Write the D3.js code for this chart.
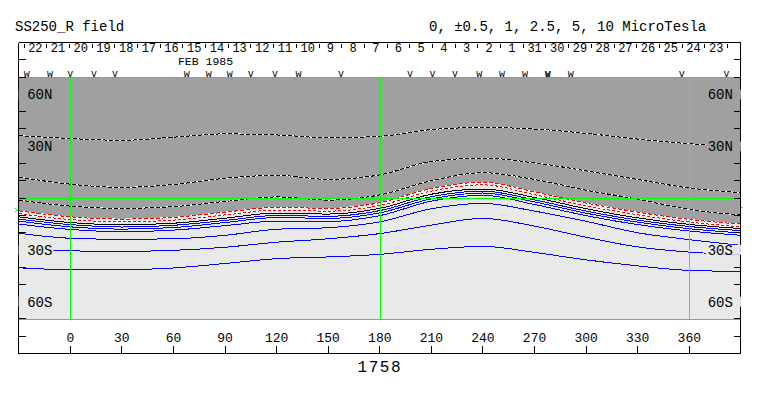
<!DOCTYPE html>
<html>
<head>
<meta charset="utf-8">
<script src="https://cdn.jsdelivr.net/npm/d3@7"></script>
<style>
  body { margin: 0; background: #fff; }
  text { font-family: "Liberation Mono", "DejaVu Sans Mono", monospace; fill: #000; }
</style>
</head>
<body>
<script>
// ---------- data (lat in degrees at each sample longitude) ----------
var lons = [-30, 0, 30, 60, 90, 120, 150, 180, 210, 240, 270, 300, 330, 360, 390];

// negative contours (dashed)
var latNeg10  = [36.1, 34.4, 33.4, 35.2, 37.1, 36.5, 34.9, 35.7, 39.6, 40.8, 39.9, 37.4, 34.1, 31.4, 29.7];
var latNeg5   = [12.1, 8.0, 6.2, 7.8, 11.4, 13.1, 10.8, 13.4, 21.1, 23.1, 20.3, 15.7, 10.7, 5.8, 3.1];
var latNeg2p5 = [-1.2, -4.7, -6.0, -5.0, -2.0, 0.6, -1.2, 1.8, 10.0, 14.6, 10.7, 4.5, -0.7, -6.6, -9.9];
var latNeg1   = [-7.4, -10.9, -12.2, -11.2, -8.2, -5.4, -6.0, -2.7, 5.5, 9.1, 3.5, -2.9, -8.2, -12.4, -15.1];
var latNeg0p5 = [-9.0, -12.5, -13.8, -12.8, -9.8, -7.0, -7.6, -4.3, 4.0, 7.6, 1.9, -4.5, -9.7, -13.9, -16.7];
// zero line
var latZero   = [-10.9, -14.2, -15.5, -14.6, -11.7, -8.7, -9.3, -6.0, 2.2, 5.2, 0.3, -6.2, -11.5, -15.3, -17.7];
// positive contours (blue)
var latPos0p5 = [-12.2, -15.4, -16.8, -15.8, -13.0, -10.1, -10.6, -7.3, 0.8, 4.0, -1.1, -7.6, -12.8, -16.5, -18.9];
var latPos1   = [-13.4, -16.7, -18.0, -17.1, -14.2, -11.3, -11.8, -8.6, -0.5, 2.9, -2.3, -8.8, -14.0, -17.8, -20.2];
var latPos2p5 = [-15.1, -18.2, -19.5, -18.6, -16.0, -13.4, -13.6, -10.2, -1.8, 1.6, -3.8, -10.2, -15.4, -19.1, -21.6];
var latPos5   = [-20.4, -23.3, -23.9, -23.6, -21.6, -18.1, -17.2, -13.8, -6.2, -3.1, -7.6, -13.5, -20.1, -24.1, -27.4];
var latPos10  = [-29.9, -30.6, -30.9, -30.3, -28.5, -25.6, -23.6, -20.6, -15.7, -11.8, -16.3, -22.7, -28.3, -31.3, -32.9];
var latPos20  = [-40.4, -41.5, -41.5, -40.5, -37.9, -35.1, -34.1, -32.6, -29.7, -28.0, -31.5, -35.8, -39.3, -41.9, -42.5];

// observation marks along the top of the map
var obsLon  = [-25.3, -11.8, 0, 13.8, 26, 67.7, 80.6, 92.8, 104.9, 119, 132.7, 157.4,
               197.5, 210.7, 223.7, 237.9, 251, 264.4, 277.7, 277.7, 291, 355.6, 381.6];
var obsMark = ["w", "w", "v", "v", "v", "w", "w", "w", "v", "v", "w", "v",
               "v", "v", "v", "w", "w", "w", "w", "v", "w", "v", "v"];

// day strip: dates at the two ends of the strip and their longitudes
var dayDates = [new Date(Date.UTC(1985, 1, 23)), new Date(Date.UTC(1985, 0, 23))];
var dayLons  = [-26.9, 382.2];

// axes
var lonTicks    = [0, 30, 60, 90, 120, 150, 180, 210, 240, 270, 300, 330, 360];
var latTicks    = [80, 70, 60, 50, 40, 30, 20, 10, 0, -10, -20, -30, -40, -50, -60, -70, -80];
var latLabels   = [60, 30, -30, -60];
var gridLons    = [0, 180, 360];
var gridLats    = [70, 0, -70];
var subsolarLat = -7;

var titleLeft  = "SS250_R field";
var titleRight = "0, \u00b10.5, 1, 2.5, 5, 10 MicroTesla";
var monthLabel = "FEB 1985";
var rotation   = "1758";

//////////// SCALES ////////////
var svg = d3.select("body").append("svg")
    .attr("width", 763)
    .attr("height", 396);

var x = d3.scaleLinear().domain([-30, 390]).range([18.7, 740.9]);
var y = d3.scaleLinear().domain([90, -90]).range([42.5, 353.5]);
var tx = d3.scaleUtc().domain(dayDates).range(dayLons.map(x));

// snap a coordinate to the pixel centre so 1px lines stay sharp
function px(v) { return Math.round(v) + 0.5; }

var DARK = "#a0a0a0", LIGHT = "#e9e9e9", GREEN = "#00ff00";

//////////// MAP BACKGROUND ////////////
svg.append("defs").append("clipPath").attr("id", "map")
    .append("rect")
    .attr("x", x(-30)).attr("y", y(70))
    .attr("width", x(390) - x(-30)).attr("height", y(-70) - y(70));

var map = svg.append("g").attr("clip-path", "url(#map)");

map.append("rect")
    .attr("x", x(-30)).attr("y", y(70))
    .attr("width", x(390) - x(-30)).attr("height", y(-70) - y(70))
    .attr("fill", LIGHT);

// dark shading north of the -1 contour
var shade = d3.area()
    .x(function(d, i) { return x(lons[i]); })
    .y0(y(70))
    .y1(function(d) { return y(d); })
    .curve(d3.curveMonotoneX);

map.append("path").datum(latNeg1).attr("d", shade).attr("fill", DARK);

//////////// CONTOURS ////////////
var line = d3.line()
    .x(function(d, i) { return x(lons[i]); })
    .y(function(d) { return y(d); })
    .curve(d3.curveMonotoneX);

var contours = [
    {lat: latNeg10,  kind: "bw"},
    {lat: latNeg5,   kind: "bw"},
    {lat: latNeg2p5, kind: "bw"},
    {lat: latNeg1,   kind: "red"},
    {lat: latNeg0p5, kind: "red2"},
    {lat: latZero,   kind: "zero"},
    {lat: latPos0p5, kind: "pos"},
    {lat: latPos1,   kind: "pos"},
    {lat: latPos2p5, kind: "pos"},
    {lat: latPos5,   kind: "pos"},
    {lat: latPos10,  kind: "pos"},
    {lat: latPos20,  kind: "pos"}
];

contours.forEach(function(c) {
    var dashed = c.kind == "bw" || c.kind == "red" || c.kind == "red2";
    if (dashed) {
        map.append("path").datum(c.lat)
            .attr("d", line)
            .attr("fill", "none")
            .attr("stroke", "#fff")
            .attr("stroke-width", 1)
            .attr("shape-rendering", "crispEdges");
    }
    map.append("path").datum(c.lat)
        .attr("d", line)
        .attr("fill", "none")
        .attr("stroke", c.kind == "bw" ? "#000"
                      : c.kind == "zero" ? "#000"
                      : c.kind == "pos" ? "#0000ff"
                      : "#ff0000")
        .attr("stroke-width", 1)
        .attr("stroke-dasharray", c.kind == "bw" ? "4,2" : c.kind == "red" ? "4,2" : c.kind == "red2" ? "3,2" : null)
        .attr("shape-rendering", "crispEdges");
});

//////////// GREEN GRID ////////////
svg.append("g").selectAll("line")
    .data(gridLats)
    .enter().append("line")
    .attr("x1", x(-30)).attr("x2", x(390))
    .attr("y1", function(d) { return px(y(d)); })
    .attr("y2", function(d) { return px(y(d)); })
    .attr("stroke", GREEN);

svg.append("g").selectAll("line")
    .data(gridLons)
    .enter().append("line")
    .attr("x1", function(d) { return px(x(d)); })
    .attr("x2", function(d) { return px(x(d)); })
    .attr("y1", y(70)).attr("y2", y(-70))
    .attr("stroke", function(d) { return d == 360 ? "#55dd55" : GREEN; });

// subsolar latitude markers at the edges
svg.append("path")
    .attr("d", "M" + (x(-30) - 4) + "," + (y(subsolarLat) - 2) + "l3,2l-3,2")
    .attr("fill", "none").attr("stroke", GREEN);
svg.append("line")
    .attr("x1", x(390)).attr("x2", x(390) + 2)
    .attr("y1", px(y(subsolarLat) - 3)).attr("y2", px(y(subsolarLat) - 3))
    .attr("stroke", GREEN);

//////////// FRAME + AXES ////////////
var frame = svg.append("g").attr("stroke", "#000").attr("shape-rendering", "crispEdges");
frame.append("line").attr("x1", x(-30)).attr("x2", x(390)).attr("y1", y(90)).attr("y2", y(90));
frame.append("line").attr("x1", x(-30)).attr("x2", x(390)).attr("y1", y(-90)).attr("y2", y(-90));
frame.append("line").attr("x1", x(-30)).attr("x2", x(-30)).attr("y1", y(90)).attr("y2", y(-90));
frame.append("line").attr("x1", x(390)).attr("x2", x(390)).attr("y1", y(90)).attr("y2", y(-90));

// latitude label backgrounds, drawn before the ticks
var latLab = svg.append("g").attr("font-size", "14px");
function latText(d) { return d > 0 ? d + "N" : (-d) + "S"; }

[["start", x(-30) + 8.5], ["end", x(390) - 8]].forEach(function(side) {
    latLab.selectAll(null)
        .data(latLabels)
        .enter().append("text")
        .attr("x", side[1])
        .attr("y", function(d) { return y(d) + 5; })
        .attr("text-anchor", side[0])
        .text(latText)
        .each(function(d) {
            var b = this.getBBox();
            var x0 = side[0] == "start" ? x(-30) : b.x - 2;
            var x1 = side[0] == "start" ? b.x + b.width + 1 : x(390);
            d3.select(this.parentNode).insert("rect", "text")
                .attr("x", x0).attr("y", y(d) - 5)
                .attr("width", x1 - x0).attr("height", 10)
                .attr("fill", d > 0 ? DARK : LIGHT);
        });
});

// latitude ticks on both sides
frame.selectAll(null)
    .data(latTicks)
    .enter().append("line")
    .attr("x1", x(-30)).attr("x2", x(-30) + 7)
    .attr("y1", function(d) { return y(d); })
    .attr("y2", function(d) { return y(d); });
frame.selectAll(null)
    .data(latTicks)
    .enter().append("line")
    .attr("x1", x(390) - 7).attr("x2", x(390))
    .attr("y1", function(d) { return y(d); })
    .attr("y2", function(d) { return y(d); });

// longitude axis
frame.selectAll(null)
    .data(lonTicks)
    .enter().append("line")
    .attr("x1", function(d) { return x(d); })
    .attr("x2", function(d) { return x(d); })
    .attr("y1", y(-90) - 8).attr("y2", y(-90));

svg.append("g").attr("font-size", "13px").attr("text-anchor", "middle")
    .selectAll("text")
    .data(lonTicks)
    .enter().append("text")
    .attr("x", function(d) { return x(d); })
    .attr("y", 342)
    .text(function(d) { return d; });

//////////// DAY STRIP ////////////
var days = d3.utcDay.range(dayDates[1], dayDates[0]);

frame.selectAll(null)
    .data(days.concat([dayDates[0]]))
    .enter().append("line")
    .attr("x1", function(d) { return tx(d); })
    .attr("x2", function(d) { return tx(d); })
    .attr("y1", 44).attr("y2", 48);

svg.append("g").attr("font-size", "12px").attr("text-anchor", "middle")
    .selectAll("text")
    .data(days)
    .enter().append("text")
    .attr("x", function(d) { return tx(d3.utcHour.offset(d, 12)); })
    .attr("y", 51.5)
    .text(function(d) { return d.getUTCDate(); });

svg.append("text")
    .attr("x", 205.5).attr("y", 65)
    .attr("font-size", "11.5px")
    .attr("text-anchor", "middle")
    .text(monthLabel);

svg.append("g").attr("font-size", "10px").attr("text-anchor", "middle")
    .selectAll("text")
    .data(obsLon)
    .enter().append("text")
    .attr("x", function(d) { return x(d); })
    .attr("y", y(70) - 0.3)
    .text(function(d, i) { return obsMark[i]; });

//////////// TITLES ////////////
svg.append("text").attr("x", 15).attr("y", 31).attr("font-size", "14px").text(titleLeft);
svg.append("text").attr("x", 429).attr("y", 31).attr("font-size", "14px").text(titleRight);
svg.append("text")
    .attr("x", x(180)).attr("y", 372)
    .attr("font-size", "16px")
    .attr("letter-spacing", "1.5px")
    .attr("text-anchor", "middle")
    .text(rotation);
</script>
</body>
</html>
